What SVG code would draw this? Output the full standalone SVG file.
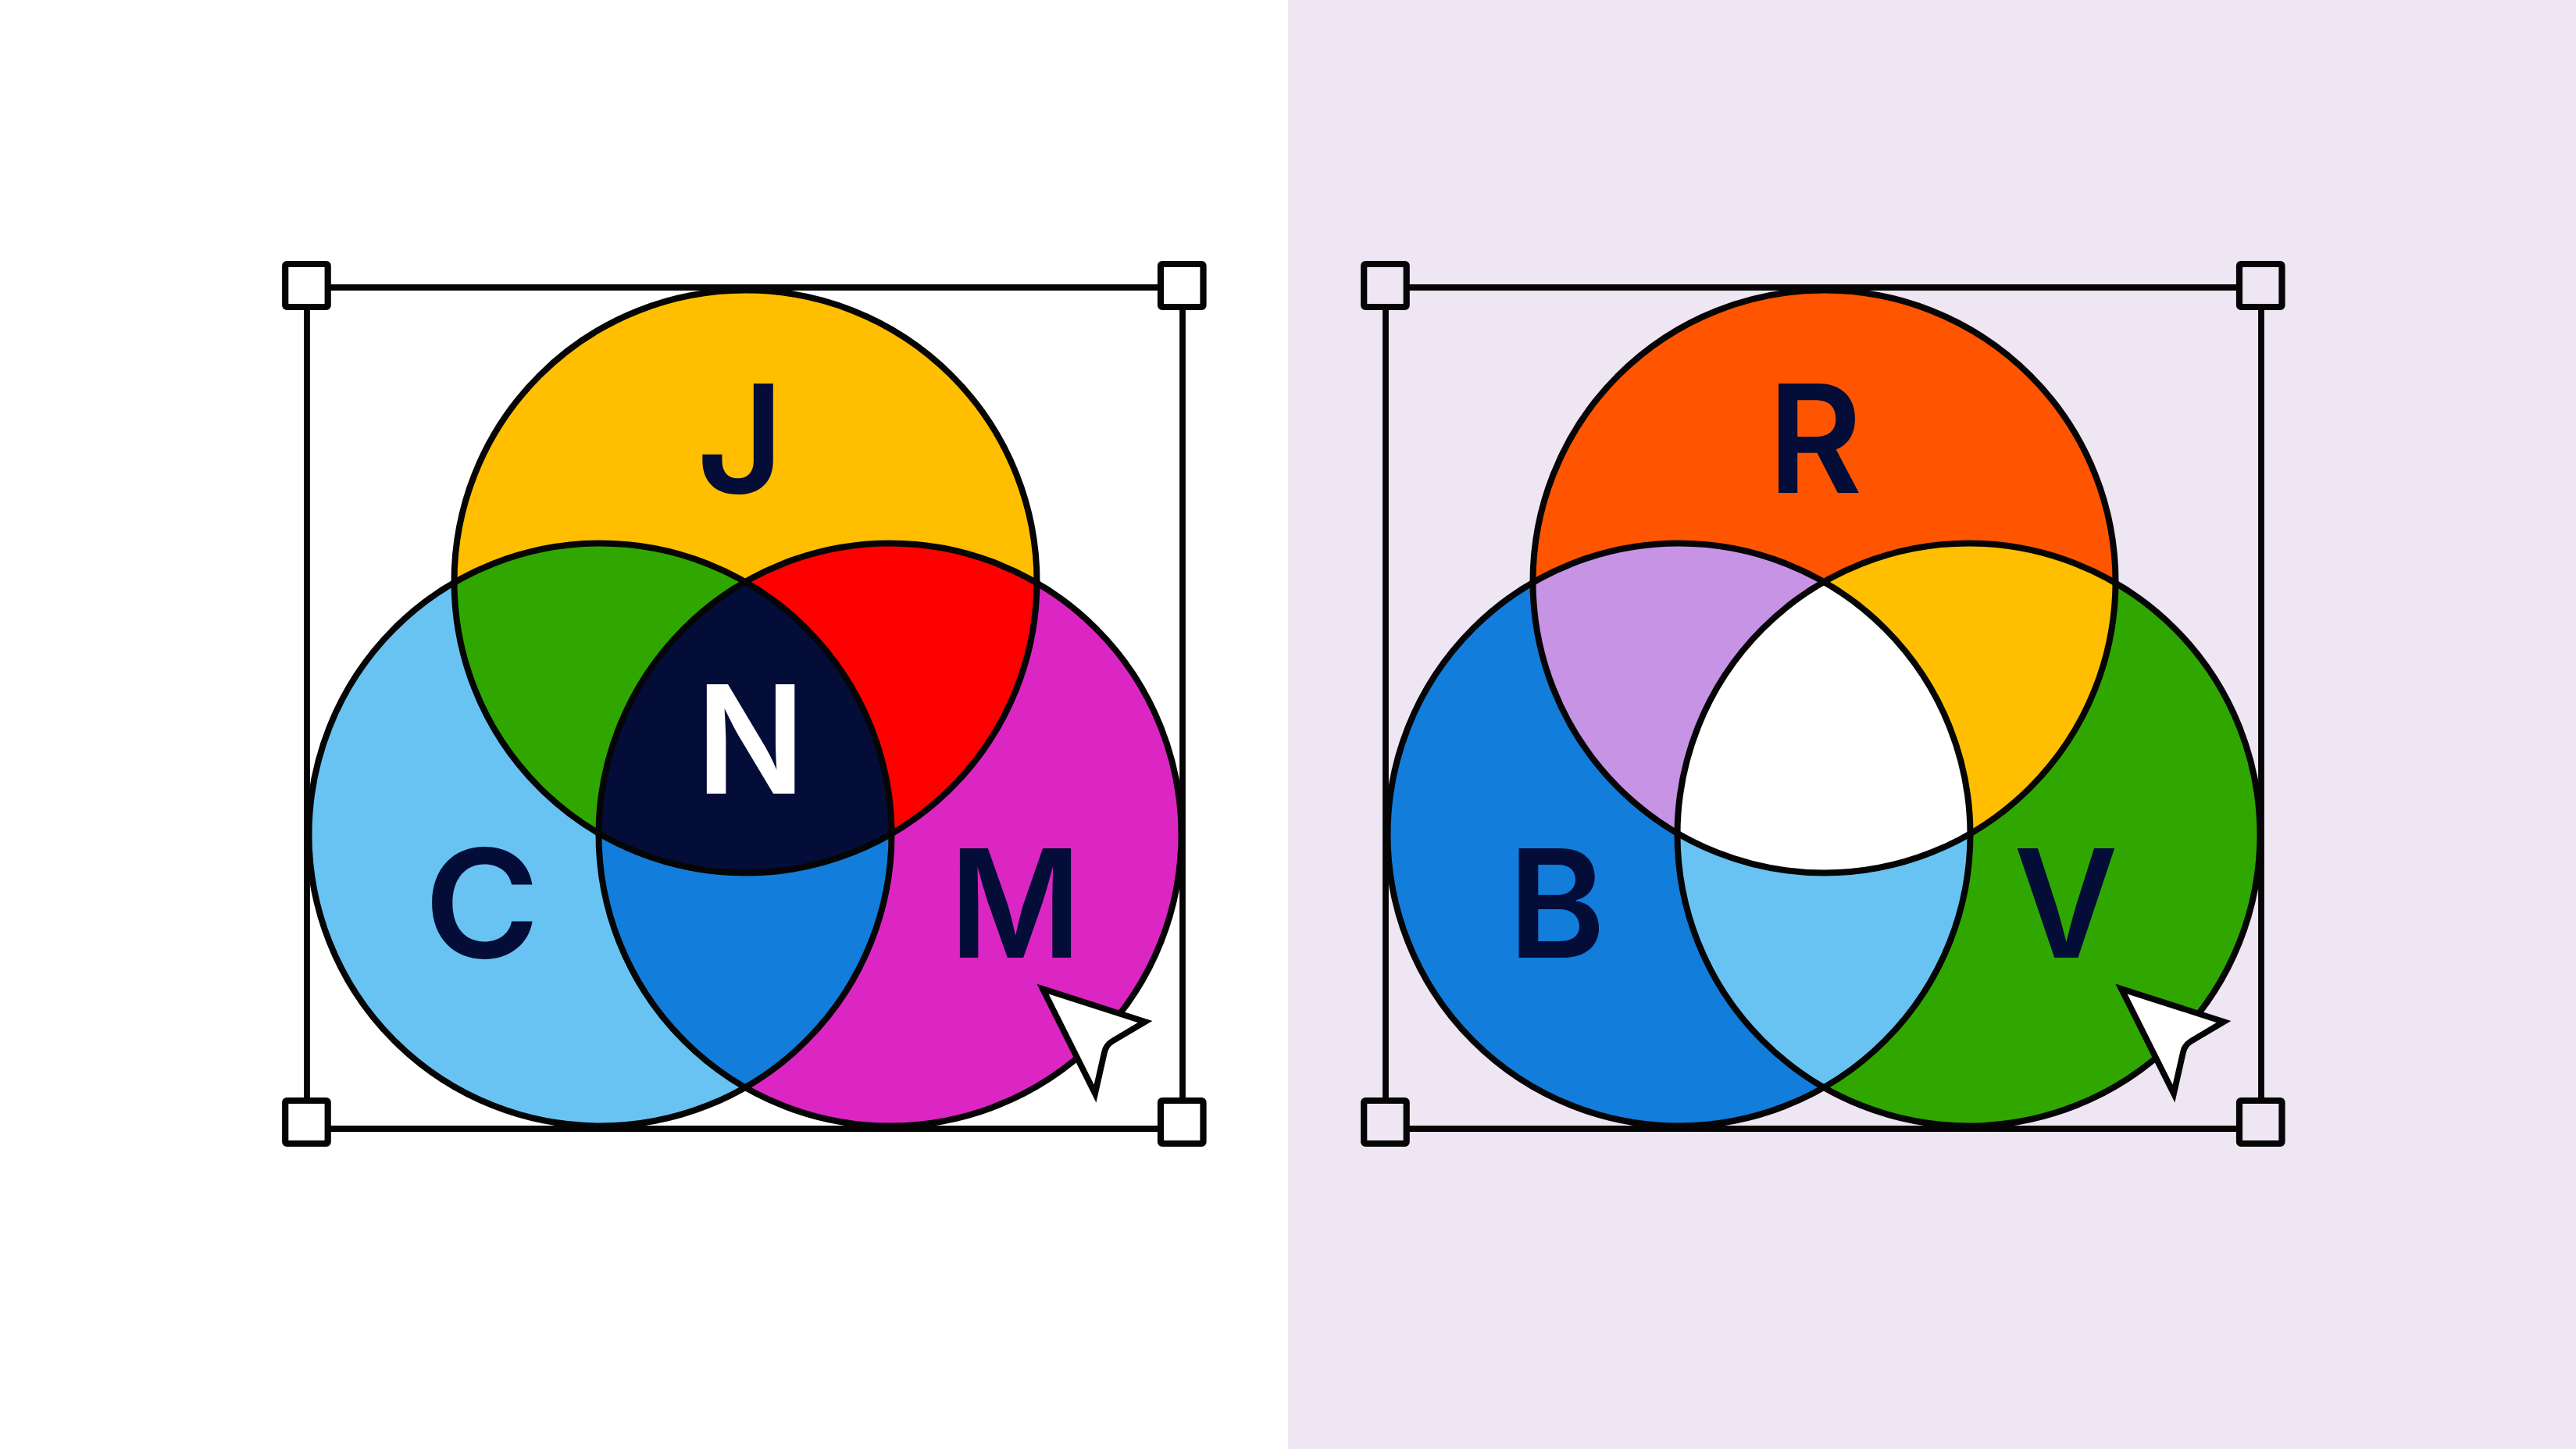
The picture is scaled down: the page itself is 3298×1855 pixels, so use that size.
<svg xmlns="http://www.w3.org/2000/svg" width="3298" height="1855" viewBox="0 0 3298 1855">
<style>
.o{fill:none;stroke:#050505;stroke-width:8}
.l{fill:none;stroke:#050505;stroke-width:7.8}
.h{stroke:#050505;stroke-width:8.2}
.cur{fill:#fff;stroke:#050505;stroke-width:7.8;stroke-miterlimit:12;stroke-linejoin:miter}
.t{font-family:Inter,"Liberation Sans",sans-serif;font-size:193px;font-weight:600;fill:#030D38;text-anchor:middle}
</style>
<defs>
<clipPath id="cJ"><circle cx="954.5" cy="744.5" r="373"/></clipPath>
<clipPath id="cC"><circle cx="768.5" cy="1068.5" r="373"/></clipPath>
<clipPath id="cM"><circle cx="1139.5" cy="1068.5" r="373"/></clipPath>
<circle id="J" cx="954.5" cy="744.5" r="373"/>
<circle id="C" cx="768.5" cy="1068.5" r="373"/>
<circle id="M" cx="1139.5" cy="1068.5" r="373"/>
<path id="frame" d="M393 397V1405M1514 397V1405M423 368H1482M423 1445H1482"/>
<path id="cursor" d="M1335 1266L1466 1308L1424 1333Q1416 1338 1414 1347L1402 1400Z"/>
<rect id="hd" width="54.5" height="55" rx="2"/>
</defs>
<rect id="bg-left" width="1649" height="1855" fill="#fff"/>
<rect id="bg-right" x="1649" width="1649" height="1855" fill="#EEE6F3"/>

<g id="connectors">
<use href="#frame" class="l"/>
<use href="#frame" class="l" x="1381"/>
</g>

<g id="venn-subtractive">
<g id="circle-J"><use href="#J" fill="#FFBF00"/></g>
<g id="circle-C"><use href="#C" fill="#69C3F2"/></g>
<g id="circle-M"><use href="#M" fill="#DC26C3"/></g>
<g id="overlap-JC" clip-path="url(#cJ)"><use href="#C" fill="#2FA700"/></g>
<g id="overlap-JM" clip-path="url(#cJ)"><use href="#M" fill="#FF0000"/></g>
<g id="overlap-CM" clip-path="url(#cC)"><use href="#M" fill="#127DDB"/></g>
<g id="overlap-N" clip-path="url(#cJ)"><g clip-path="url(#cC)"><use href="#M" fill="#030D38"/></g></g>
<use href="#J" class="o"/><use href="#C" class="o"/><use href="#M" class="o"/>
<text id="label-J" class="t" x="948" y="631">J</text>
<text id="label-C" class="t" transform="translate(617 1226) scale(1.04 1)">C</text>
<text id="label-M" class="t" transform="translate(1300 1226) scale(.95 1)">M</text>
<text id="label-N" class="t" transform="translate(961 1016) scale(.95 1)" style="fill:#fff">N</text>
<g id="cursor-left"><use href="#cursor" class="cur"/></g>
<g id="handles-left" fill="#fff">
<use href="#hd" class="h" x="365.2" y="338"/>
<use href="#hd" class="h" x="1486" y="338"/>
<use href="#hd" class="h" x="365.2" y="1409"/>
<use href="#hd" class="h" x="1486" y="1409"/>
</g>
</g>

<g id="venn-additive" transform="translate(1381 0)">
<g id="circle-R"><use href="#J" fill="#FF5500"/></g>
<g id="circle-B"><use href="#C" fill="#127DDB"/></g>
<g id="circle-V"><use href="#M" fill="#2FA700"/></g>
<g id="overlap-RB" clip-path="url(#cJ)"><use href="#C" fill="#C693E5"/></g>
<g id="overlap-RV" clip-path="url(#cJ)"><use href="#M" fill="#FFBF00"/></g>
<g id="overlap-BV" clip-path="url(#cC)"><use href="#M" fill="#69C3F2"/></g>
<g id="overlap-W" clip-path="url(#cJ)"><g clip-path="url(#cC)"><use href="#M" fill="#fff"/></g></g>
<use href="#J" class="o"/><use href="#C" class="o"/><use href="#M" class="o"/>
<text id="label-R" class="t" transform="translate(943 631) scale(.96 1)">R</text>
<text id="label-B" class="t" transform="translate(612 1226) scale(.98 1)">B</text>
<text id="label-V" class="t" transform="translate(1264 1226) scale(.95 1)">V</text>
<g id="cursor-right"><use href="#cursor" class="cur"/></g>
<g id="handles-right" fill="#EEE6F3">
<use href="#hd" class="h" x="365.2" y="338"/>
<use href="#hd" class="h" x="1486" y="338"/>
<use href="#hd" class="h" x="365.2" y="1409"/>
<use href="#hd" class="h" x="1486" y="1409"/>
</g>
</g>
</svg>
